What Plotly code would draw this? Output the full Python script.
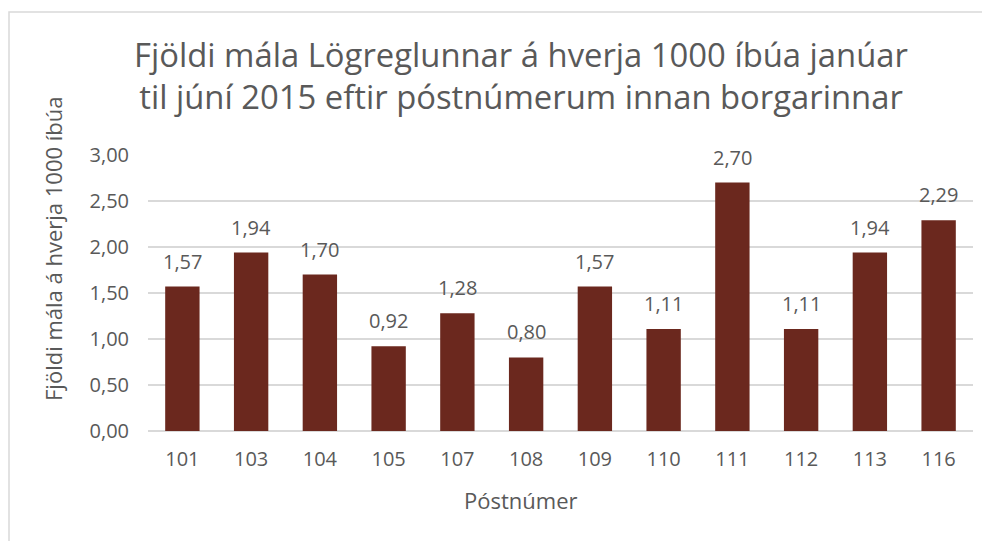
import plotly.graph_objects as go

categories = ["101", "103", "104", "105", "107", "108", "109", "110", "111", "112", "113", "116"]
values = [1.57, 1.94, 1.70, 0.92, 1.28, 0.80, 1.57, 1.11, 2.70, 1.11, 1.94, 2.29]
labels = [f"{v:.2f}".replace(".", ",") for v in values]

# page body has an 8px margin; figure is sized to fill the remaining window
W, H = 982, 533
L, R, T, B = 140, 17, 147, 110
pw, ph = W - L - R, H - T - B
font = "Open Sans"
grey = "#595959"

fig = go.Figure(go.Bar(
    x=categories, y=values,
    marker=dict(color="#6B281E", line=dict(width=0)),
    width=0.5,
))

# value labels above bars (category axis positions given by index)
for i, (v, t) in enumerate(zip(values, labels)):
    fig.add_annotation(
        x=i, y=v, text=t, showarrow=False, yanchor="bottom", yshift=10,
        font=dict(family=font, size=20, color=grey),
    )

fig.update_layout(
    width=W, height=H,
    margin=dict(l=L, r=R, t=T, b=B),
    paper_bgcolor="white", plot_bgcolor="white",
    separators=", ",
    showlegend=False,
    title=dict(
        text="Fjöldi mála Lögreglunnar á hverja 1000 íbúa janúar<br>til júní 2015 eftir póstnúmerum innan borgarinnar",
        x=513 / W, xanchor="center", y=1 - 58.5 / H, yanchor="middle",
        font=dict(family=font, size=32.8, color=grey),
    ),
    xaxis=dict(
        type="category", categoryorder="array", categoryarray=categories,
        range=[-0.5, len(categories) - 0.5], autorange=False,
        tickfont=dict(family=font, size=20, color=grey), tickangle=0,
        showline=False, ticks="", showgrid=False, ticklabelstandoff=14,
    ),
    yaxis=dict(
        tickfont=dict(family=font, size=20, color=grey),
        range=[0, 3], dtick=0.5, tickformat=".2f",
        gridcolor="#D9D9D9", gridwidth=1.5, zeroline=True, zerolinecolor="#D9D9D9", zerolinewidth=1.5,
        showline=False, ticks="", ticklabelstandoff=18,
    ),
)

fig.add_annotation(
    text="Fjöldi mála á hverja 1000 íbúa", textangle=-90, showarrow=False,
    xref="paper", yref="paper", x=(45 - L) / pw, y=1 - (241 - T) / ph,
    xanchor="center", yanchor="middle",
    font=dict(family=font, size=22, color=grey),
)
fig.add_annotation(
    text="Póstnúmer", showarrow=False,
    xref="paper", yref="paper", x=(513 - L) / pw, y=1 - (492 - T) / ph,
    xanchor="center", yanchor="middle",
    font=dict(family=font, size=22, color=grey),
)

fig.add_shape(
    type="rect", xref="paper", yref="paper",
    x0=(1 - L) / pw, x1=(W + 10 - L) / pw,
    y0=-(H + 10 - T - ph) / ph, y1=1 + (T - 4) / ph,
    line=dict(color="#D9D9D9", width=1.5), fillcolor="rgba(0,0,0,0)", layer="below",
)

fig.write_html("out.html")
